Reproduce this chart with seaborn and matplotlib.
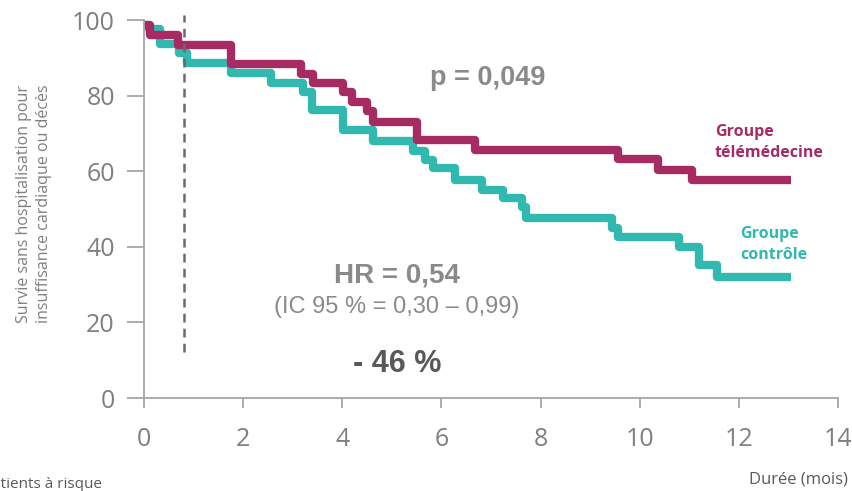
import pandas as pd
import seaborn as sns
from matplotlib import pyplot as plt

# Kaplan-Meier steps (months, % survival)
tele_months = [0, 0.12, 0.68, 1.75, 3.17, 3.41, 4.01, 4.19, 4.5, 4.61, 5.5, 6.67, 9.56, 10.36, 11.05, 13.06]
tele_surv = [98.6, 95.9, 93.3, 88.4, 85.8, 83.3, 80.9, 78.2, 76.0, 73.0, 68.3, 65.6, 63.2, 60.3, 57.8, 57.8]

ctrl_months = [0, 0.1, 0.33, 0.7, 0.86, 1.75, 2.56, 3.2, 3.39, 4.01, 4.62, 5.42, 5.67, 5.83,
               6.27, 6.81, 7.24, 7.62, 7.7, 9.44, 9.56, 10.8, 11.2, 11.55, 13.06]
ctrl_surv = [98.6, 97.6, 93.6, 91.2, 88.5, 86.1, 83.3, 81.0, 76.2, 70.9, 68.0, 65.3, 63.0, 60.8,
             57.8, 55.0, 52.9, 50.4, 47.6, 45.0, 42.6, 40.0, 35.2, 32.0, 32.0]

groups = ['contrôle', 'télémédecine']
landmark_month = 0.81
landmark_range = [12.2, 101.3]
x_ticks = [0, 2, 4, 6, 8, 10, 12, 14]
y_ticks = [0, 20, 40, 60, 80, 100]

MAGENTA = '#A62B63'
TEAL = '#31B8AF'
GRAY = '#7F7F7F'


def main():
    df = pd.concat([
        pd.DataFrame({'mois': ctrl_months, 'survie': ctrl_surv, 'groupe': groups[0]}),
        pd.DataFrame({'mois': tele_months, 'survie': tele_surv, 'groupe': groups[1]}),
    ])

    sns.set_style('white')
    plt.rcParams['font.family'] = ['Open Sans', 'DejaVu Sans']

    fig = plt.figure(figsize=(8.53, 4.91), dpi=100)
    ax = fig.add_axes([144 / 853, 1 - 398 / 491, 694 / 853, 378 / 491])

    sns.lineplot(data=df, x='mois', y='survie', hue='groupe', hue_order=groups,
                 palette=[TEAL, MAGENTA], estimator=None, sort=False, legend=False,
                 drawstyle='steps-post', lw=6, solid_joinstyle='round',
                 solid_capstyle='butt', clip_on=False, ax=ax)

    # landmark dashed line
    ax.plot([landmark_month, landmark_month], landmark_range, ls=(0, (3.5, 2.5)),
            color='#6b6b6b', lw=1.8, clip_on=False)

    ax.set_xlim(0, 14)
    ax.set_ylim(0, 100)
    ax.set_xticks(x_ticks)
    ax.set_yticks(y_ticks)
    ax.set_xlabel('')
    ax.set_ylabel('Survie sans hospitalisation pour\ninsuffisance cardiaque ou décès',
                  fontsize=11.5, color=GRAY, linespacing=1.4)
    ax.yaxis.set_label_coords(-0.132, 0.513)
    for s in ['top', 'right']:
        ax.spines[s].set_visible(False)
    for s in ['left', 'bottom']:
        ax.spines[s].set_color('#a6a6a6')
        ax.spines[s].set_linewidth(1.3)
    ax.tick_params(axis='x', direction='out', length=7, width=1.3, color='#a6a6a6',
                   labelsize=18, labelcolor=GRAY, pad=14)
    ax.tick_params(axis='y', direction='out', length=12, width=1.3, color='#a6a6a6',
                   labelsize=18, labelcolor=GRAY, pad=9)
    ax.tick_params(axis='both', bottom=True, left=True)

    bold = ['Liberation Sans', 'DejaVu Sans']
    ax.text(6.93, 84.6, 'p = 0,049', fontsize=19.5, fontweight='bold',
            color='#8a8a8a', ha='center', va='center', family=bold)
    ax.text(5.1, 32.4, 'HR = 0,54', fontsize=20, fontweight='bold',
            color='#8a8a8a', ha='center', va='center', family=bold)
    ax.text(5.1, 24.2, '(IC 95 % = 0,30 – 0,99)', fontsize=17,
            color='#8a8a8a', ha='center', va='center', family=bold)
    ax.text(5.1, 9.0, '- 46 %', fontsize=22, fontweight='bold',
            color='#595959', ha='center', va='center', family=bold)

    ax.text(11.52, 67.6, 'Groupe\ntélémédecine', fontsize=11.5, fontweight='bold',
            color=MAGENTA, ha='left', va='center', linespacing=1.35)
    ax.text(12.03, 40.6, 'Groupe\ncontrôle', fontsize=11.5, fontweight='bold',
            color=TEAL, ha='left', va='center', linespacing=1.35)

    fig.text(-17 / 853, 1 - 484 / 491, 'Patients à risque', fontsize=11,
             color='#595959', ha='left', va='center')
    fig.text(848 / 853, 1 - 480 / 491, 'Durée (mois)', fontsize=12,
             color='#595959', ha='right', va='center')

    plt.savefig('out.png', dpi=100)


if __name__ == '__main__':
    main()
